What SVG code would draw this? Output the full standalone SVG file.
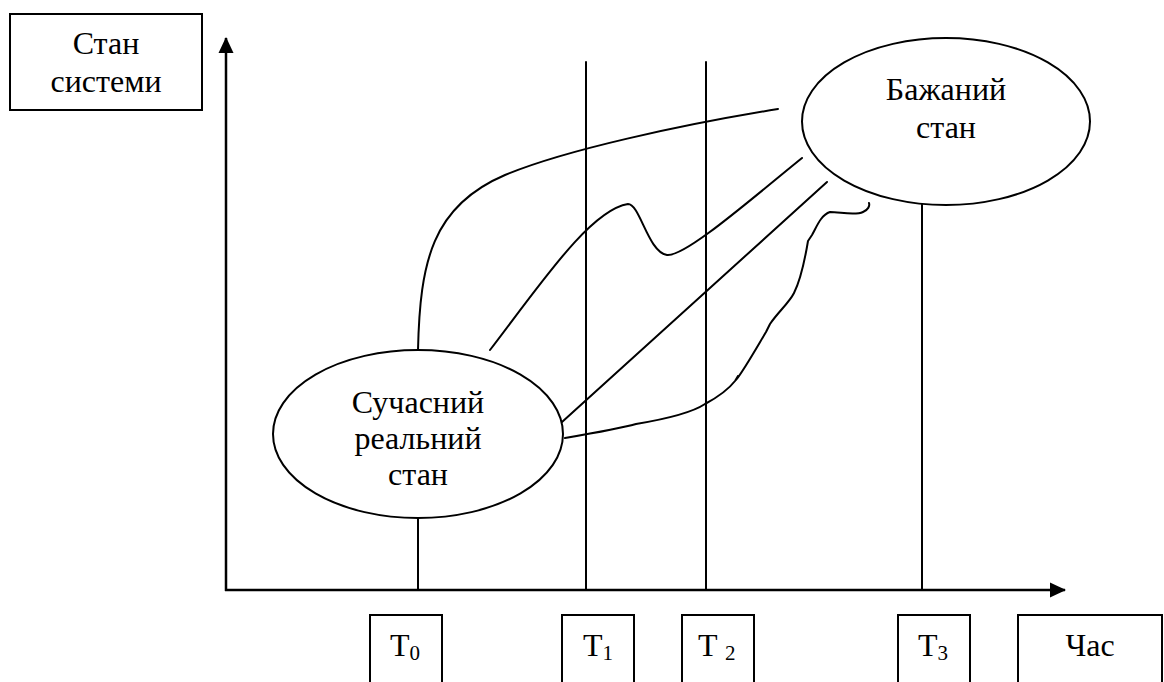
<svg xmlns="http://www.w3.org/2000/svg" width="1164" height="682" viewBox="0 0 1164 682">
<style>
.box{fill:#fff;stroke:#000;stroke-width:2}
.ln{fill:none;stroke:#000;stroke-width:2;stroke-linecap:round;stroke-linejoin:round}
.ax{fill:none;stroke:#000;stroke-width:2.5}
text{font-family:'Liberation Serif','Times New Roman',Times,'DejaVu Serif',serif;font-size:32px;fill:#000}
.c{text-anchor:middle}
.sub{font-size:21px}
</style>
<defs>
<marker id="ah" markerUnits="userSpaceOnUse" markerWidth="16" markerHeight="16" viewBox="0 0 16 16" refX="15" refY="8" orient="auto">
<path d="M0,0.5 L16,8 L0,15.5 Z" fill="#000"/>
</marker>
</defs>
<rect width="1164" height="682" fill="#fff"/>
<g id="connectors">
<line class="ax" x1="226" y1="591" x2="226" y2="38" marker-end="url(#ah)"/>
<line class="ax" x1="225" y1="590" x2="1065" y2="590" marker-end="url(#ah)"/>
<line class="ln" x1="418" y1="518" x2="418" y2="590"/>
<line class="ln" x1="586" y1="62" x2="586" y2="590"/>
<line class="ln" x1="706" y1="62" x2="706" y2="590"/>
<line class="ln" x1="922" y1="204" x2="922" y2="590"/>
<path class="ln" d="M418,350 C420,262 432,206 505,175 C565,150 680,125 778,109"/>
<path class="ln" d="M490,350 C540,285 590,210 628,204 C640,204 648,252 667,255 C685,257 750,200 802,158"/>
<line class="ln" x1="562" y1="422" x2="827" y2="182"/>
<path class="ln" d="M565,438 C600,432 622,428 636,424 C660,420 690,414 705,404 C718,397 728,390 735,381 L738,376 L736,380 C744,370 757,347 766,332 L770,324 C778,312 789,303 794,293 C801,279 805,259 808,241 L812,235 C817,226 821,215 830,212 C840,212 855,216 863,212 C868,210 870,206 869,203"/>
</g>
<g id="node-state">
<rect class="box" x="10" y="14" width="192" height="96"/>
<text class="c" x="106" y="54" font-family="Liberation Serif, serif">Стан</text>
<text class="c" x="106" y="92" font-family="Liberation Serif, serif">системи</text>
</g>
<g id="node-current">
<ellipse class="box" cx="418" cy="434" rx="145" ry="84"/>
<text class="c" x="418" y="413">Сучасний</text>
<text class="c" x="418" y="449">реальний</text>
<text class="c" x="418" y="485">стан</text>
</g>
<g id="node-desired">
<ellipse class="box" cx="946" cy="121.5" rx="144" ry="83.5"/>
<text class="c" x="946" y="100">Бажаний</text>
<text class="c" x="946" y="138">стан</text>
</g>
<g id="node-t0">
<rect class="box" x="370" y="615" width="72" height="90"/>
<text x="390" y="656">T<tspan class="sub" dy="4">0</tspan></text>
</g>
<g id="node-t1">
<rect class="box" x="562" y="615" width="72" height="90"/>
<text x="583" y="656">T<tspan class="sub" dy="4">1</tspan></text>
</g>
<g id="node-t2">
<rect class="box" x="682" y="615" width="72" height="90"/>
<text x="698" y="656">T <tspan class="sub" dy="4">2</tspan></text>
</g>
<g id="node-t3">
<rect class="box" x="898" y="615" width="72" height="90"/>
<text x="918" y="656">T<tspan class="sub" dy="4">3</tspan></text>
</g>
<g id="node-time">
<rect class="box" x="1018" y="615" width="144" height="90"/>
<text class="c" x="1090" y="656">Час</text>
</g>
</svg>
